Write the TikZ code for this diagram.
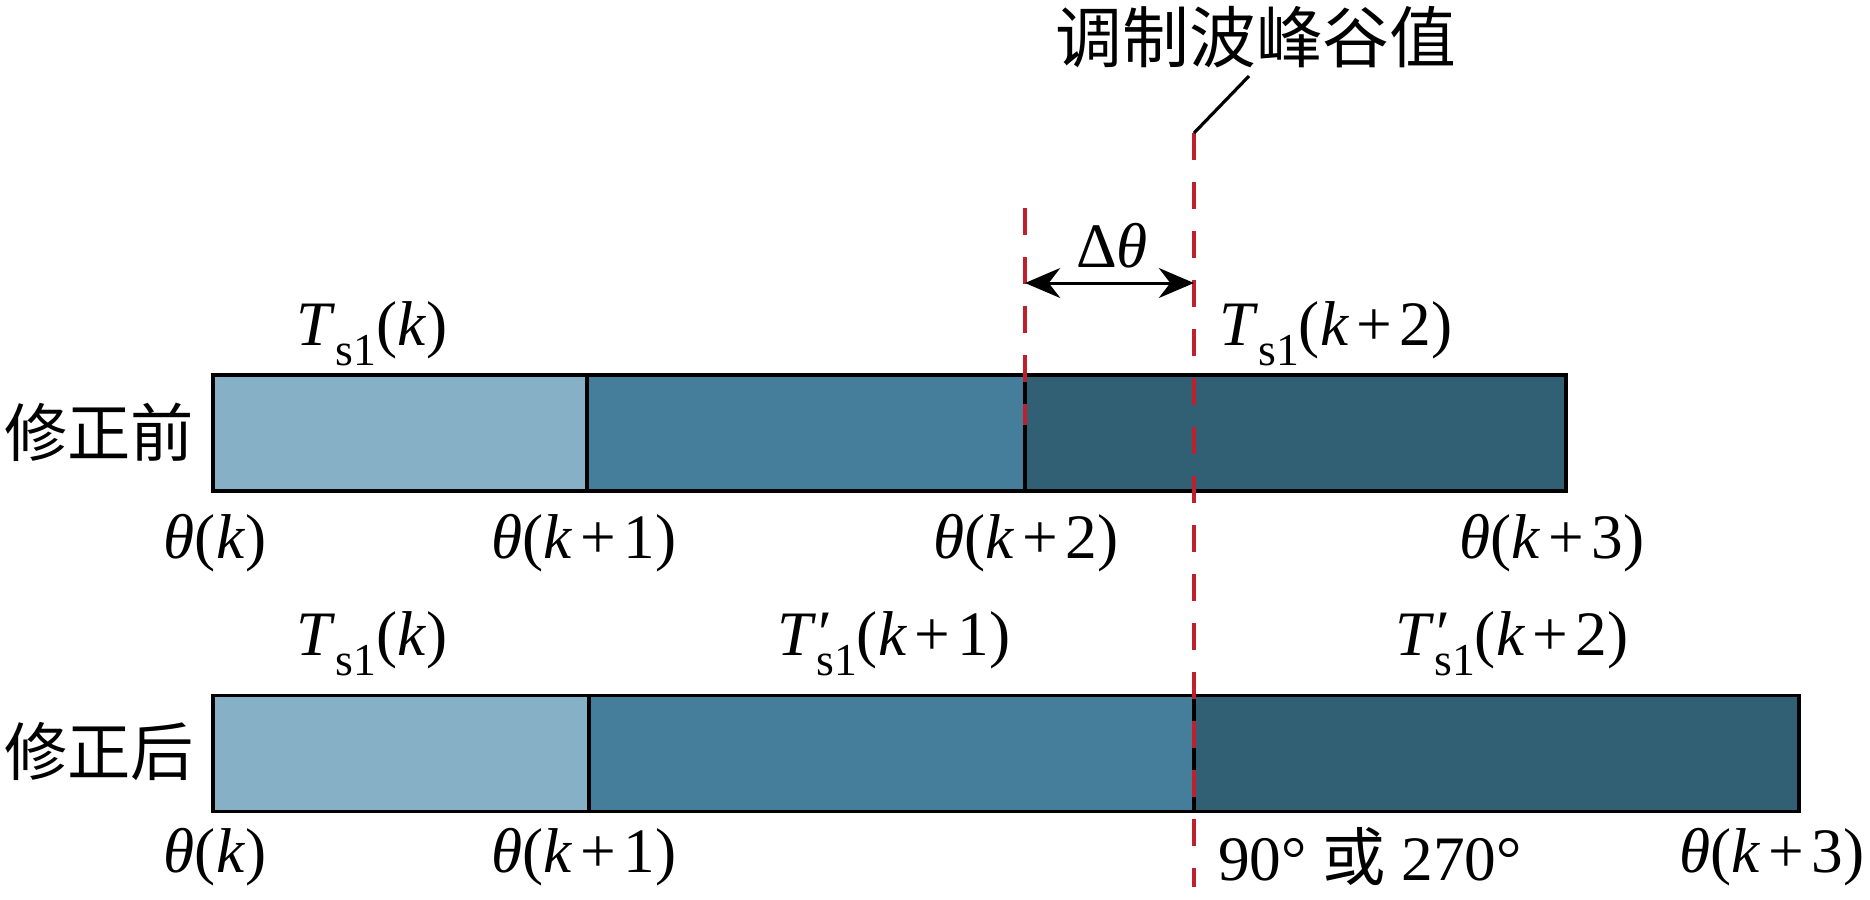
\documentclass[tikz,border=0pt]{standalone}
\usepackage{fontspec}
\setmainfont{Liberation Serif}
\newfontfamily\cjk{Noto Sans CJK SC}
\usetikzlibrary{arrows.meta}
\definecolor{segA}{RGB}{134,176,198}
\definecolor{segB}{RGB}{69,126,155}
\definecolor{segC}{RGB}{49,96,117}
\definecolor{peakred}{RGB}{190,33,45}
\newcommand{\subsone}{\raisebox{-0.32em}{\fontsize{13}{13}\selectfont s1}}
\newcommand{\Ts}[1]{\textit{T}\subsone(#1)}
\newcommand{\Tsp}[1]{\textit{T}\rlap{\kern0.03em\raisebox{0.02em}{′}}\subsone(#1)}
\newcommand{\thetak}[1]{\textit{θ}(#1)}
\newcommand{\kp}[1]{\textit{k}\kern0.12em+\kern0.12em#1}
\tikzset{
  seg/.style={draw=black, line width=1.1pt, inner sep=0pt, outer sep=0pt, minimum height=1.16cm},
  lbl/.style={font=\fontsize{18}{20}\selectfont, inner sep=0pt},
  cjklbl/.style={font=\cjk\fontsize{18}{20}\selectfont, inner sep=0pt},
  peakline/.style={draw=peakred, line width=0.95pt, dash pattern=on 0.27cm off 0.22cm}
}
\begin{document}
\begin{tikzpicture}[x=0.01cm, y=-0.01cm, >={Stealth[length=10pt,width=8.5pt]}]
		\useasboundingbox (0,0) rectangle (1870,899);
		% before correction
		\node (a1) [seg, fill=segA, minimum width=3.74cm] at (400,433) {};
		\node (a2) [seg, fill=segB, minimum width=4.38cm] at (806,433) {};
		\node (a3) [seg, fill=segC, minimum width=5.41cm] at (1295.5,433) {};
		% after correction
		\node (b1) [seg, fill=segA, minimum width=3.76cm] at (401,753.5) {};
		\node (b2) [seg, fill=segB, minimum width=6.05cm] at (891.5,753.5) {};
		\node (b3) [seg, fill=segC, minimum width=6.05cm] at (1496.5,753.5) {};

		\node (before) [cjklbl] at (99,432) {修正前};
		\node (after) [cjklbl] at (99,751) {修正后};

		\node (ta1) [lbl] at (372,334) {\Ts{\textit{k}}};
		\node (ta3) [lbl] at (1336,334) {\Ts{\kp{2}}};
		\node (tb1) [lbl] at (372,644) {\Ts{\textit{k}}};
		\node (tb2) [lbl] at (894,644) {\Tsp{\kp{1}}};
		\node (tb3) [lbl] at (1512,644) {\Tsp{\kp{2}}};

		\node (tha0) [lbl] at (215,543) {\thetak{\textit{k}}};
		\node (tha1) [lbl] at (584,543) {\thetak{\kp{1}}};
		\node (tha2) [lbl] at (1026,543) {\thetak{\kp{2}}};
		\node (tha3) [lbl] at (1552,543) {\thetak{\kp{3}}};
		\node (thb0) [lbl] at (215,857) {\thetak{\textit{k}}};
		\node (thb1) [lbl] at (584,857) {\thetak{\kp{1}}};
		\node (thb2) [lbl] at (1370,857) {90° {\cjk 或} 270°};
		\node (thb3) [lbl] at (1772,857) {\thetak{\kp{3}}};

		% peak / valley of the modulation wave
		\node (peak) [cjklbl, font=\cjk\fontsize{19}{21}\selectfont] at (1256,37) {调制波峰谷值};
		\coordinate (pktop) at (1194,133);
		\coordinate (pkbot) at (1194,887);
		\coordinate (pklead) at (1249,76);
		\coordinate (shtop) at (1025,208);
		\coordinate (shbot) at (1025,425);
		\draw [peakline] (pktop)--(pkbot);
		\draw [peakline] (shtop)--(shbot);
		\draw [line width=0.9pt] (pktop)--(pklead);

		\coordinate (dl) at (1025,283);
		\coordinate (dr) at (1194,283);
		\draw [<->, line width=0.85pt] (dl)--(dr);
		\node (dtheta) [lbl] at (1112,246) {Δ\textit{θ}};
	\end{tikzpicture}
\end{document}
